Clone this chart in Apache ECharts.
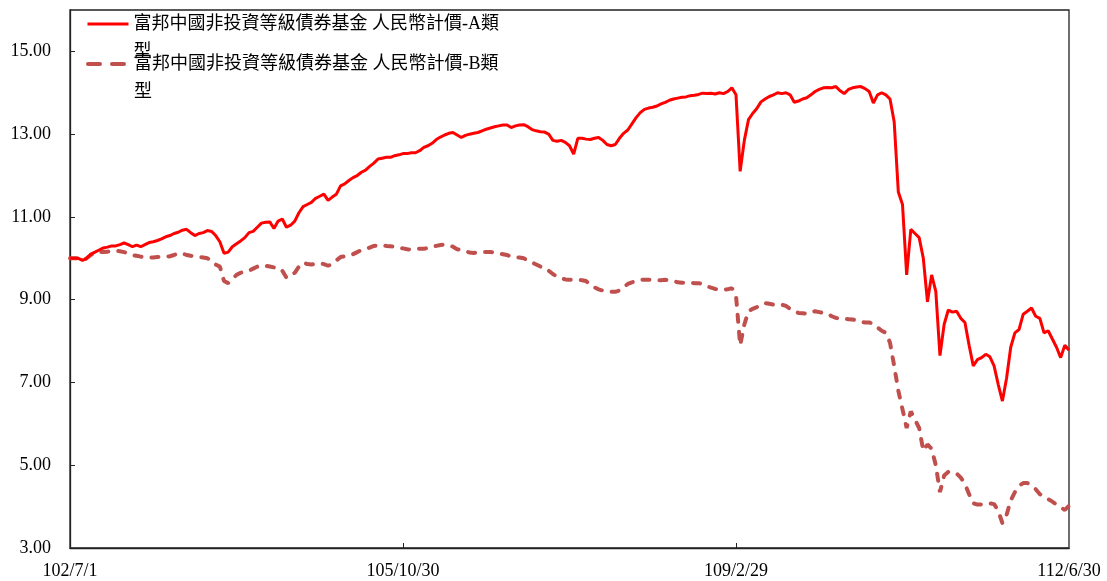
<!DOCTYPE html>
<html>
<head>
<meta charset="utf-8">
<script src="https://cdn.jsdelivr.net/npm/echarts@6/dist/echarts.min.js"></script>
<style>
html,body{margin:0;padding:0;background:#fff;}
#chart{width:1107px;height:581px;}
</style>
</head>
<body>
<div id="chart"></div>
<script>
const seriesNameA = '富邦中國非投資等級債券基金 人民幣計價-A類型';
const seriesNameB = '富邦中國非投資等級債券基金 人民幣計價-B類型';

const categories = [
"102/7/1","102/7/15","102/7/31","102/8/15","102/8/31","102/9/15","102/9/30","102/10/15","102/10/31","102/11/15","102/11/30","102/12/15","102/12/31",
"103/1/15","103/1/31","103/2/15","103/2/28","103/3/15","103/3/31","103/4/15","103/4/30","103/5/15","103/5/31","103/6/15","103/6/30","103/7/15","103/7/31","103/8/15","103/8/31","103/9/15","103/9/30","103/10/15","103/10/31","103/11/15","103/11/30","103/12/15","103/12/31",
"104/1/15","104/1/31","104/2/15","104/2/28","104/3/15","104/3/31","104/4/15","104/4/30","104/5/15","104/5/31","104/6/15","104/6/30","104/7/15","104/7/31","104/8/15","104/8/31","104/9/15","104/9/30","104/10/15","104/10/31","104/11/15","104/11/30","104/12/15","104/12/31",
"105/1/15","105/1/31","105/2/15","105/2/29","105/3/15","105/3/31","105/4/15","105/4/30","105/5/15","105/5/31","105/6/15","105/6/30","105/7/15","105/7/31","105/8/15","105/8/31","105/9/15","105/9/30","105/10/15","105/10/30","105/11/15","105/11/30","105/12/15","105/12/31",
"106/1/15","106/1/31","106/2/15","106/2/28","106/3/15","106/3/31","106/4/15","106/4/30","106/5/15","106/5/31","106/6/15","106/6/30","106/7/15","106/7/31","106/8/15","106/8/31","106/9/15","106/9/30","106/10/15","106/10/31","106/11/15","106/11/30","106/12/15","106/12/31",
"107/1/15","107/1/31","107/2/15","107/2/28","107/3/15","107/3/31","107/4/15","107/4/30","107/5/15","107/5/31","107/6/15","107/6/30","107/7/15","107/7/31","107/8/15","107/8/31","107/9/15","107/9/30","107/10/15","107/10/31","107/11/15","107/11/30","107/12/15","107/12/31",
"108/1/15","108/1/31","108/2/15","108/2/28","108/3/15","108/3/31","108/4/15","108/4/30","108/5/15","108/5/31","108/6/15","108/6/30","108/7/15","108/7/31","108/8/15","108/8/31","108/9/15","108/9/30","108/10/15","108/10/31","108/11/15","108/11/30","108/12/15","108/12/31",
"109/1/15","109/1/31","109/2/15","109/2/29","109/3/15","109/3/31","109/4/15","109/4/30","109/5/15","109/5/31","109/6/15","109/6/30","109/7/15","109/7/31","109/8/15","109/8/31","109/9/15","109/9/30","109/10/15","109/10/31","109/11/15","109/11/30","109/12/15","109/12/31",
"110/1/15","110/1/31","110/2/15","110/2/28","110/3/15","110/3/31","110/4/15","110/4/30","110/5/15","110/5/31","110/6/15","110/6/30","110/7/15","110/7/31","110/8/15","110/8/31","110/9/15","110/9/30","110/10/15","110/10/31","110/11/15","110/11/30","110/12/15","110/12/31",
"111/1/15","111/1/31","111/2/15","111/2/28","111/3/15","111/3/31","111/4/15","111/4/30","111/5/15","111/5/31","111/6/15","111/6/30","111/7/15","111/7/31","111/8/15","111/8/31","111/9/15","111/9/30","111/10/15","111/10/31","111/11/15","111/11/30","111/12/15","111/12/31",
"112/1/15","112/1/31","112/2/15","112/2/28","112/3/15","112/3/31","112/4/15","112/4/30","112/5/15","112/5/31","112/6/15","112/6/30"
];

const xLabelDates = ["102/7/1","105/10/30","109/2/29","112/6/30"];
const xTickDates = ["105/10/30","109/2/29"];
const yLabelValues = [3,5,7,9,11,13,15];
const yTickValues = [5,7,9,11,13,15];

const valuesA = [
10.0,10.0,10.0,9.95,10.0,10.1,10.15,10.2,10.25,10.27,
10.3,10.3,10.33,10.37,10.33,10.28,10.32,10.28,10.33,10.38,
10.4,10.43,10.47,10.52,10.55,10.6,10.63,10.68,10.7,10.62,
10.55,10.6,10.62,10.67,10.65,10.55,10.4,10.12,10.15,10.28,
10.35,10.42,10.5,10.62,10.65,10.75,10.85,10.87,10.88,10.72,
10.9,10.95,10.75,10.8,10.9,11.1,11.25,11.3,11.35,11.45,
11.5,11.55,11.4,11.48,11.55,11.75,11.8,11.88,11.95,12.0,
12.08,12.13,12.22,12.3,12.4,12.42,12.44,12.44,12.48,12.5,
12.53,12.53,12.55,12.55,12.6,12.68,12.72,12.78,12.87,12.93,
12.98,13.02,13.04,12.98,12.92,12.97,13.0,13.02,13.04,13.08,
13.12,13.15,13.18,13.2,13.22,13.22,13.16,13.2,13.22,13.23,
13.18,13.11,13.08,13.06,13.05,13.0,12.85,12.83,12.85,12.8,
12.72,12.52,12.9,12.9,12.88,12.87,12.9,12.92,12.85,12.75,
12.72,12.75,12.9,13.02,13.1,13.25,13.4,13.52,13.6,13.63,
13.65,13.68,13.73,13.77,13.82,13.85,13.87,13.89,13.9,13.93,
13.94,13.96,13.99,13.98,13.99,13.97,14.0,13.98,14.03,14.12,
13.95,12.1,12.85,13.35,13.5,13.62,13.78,13.85,13.91,13.95,
14.0,13.98,14.0,13.95,13.77,13.8,13.85,13.88,13.95,14.03,
14.08,14.12,14.13,14.12,14.15,14.05,13.98,14.08,14.12,14.14,
14.15,14.1,14.03,13.75,13.95,14.0,13.95,13.85,13.3,11.6,
11.3,9.6,10.7,10.6,10.5,10.0,8.95,9.6,9.2,7.65,
8.4,8.75,8.7,8.72,8.55,8.45,7.9,7.4,7.55,7.6,
7.68,7.62,7.4,6.95,6.55,7.1,7.85,8.2,8.28,8.65,
8.72,8.8,8.6,8.55,8.2,8.25,8.05,7.85,7.6,7.9,
7.78
];

const valuesB = [
10.0,10.0,10.0,9.95,10.0,10.08,10.13,10.15,10.15,10.16,
10.17,10.18,10.17,10.15,10.12,10.08,10.06,10.04,10.03,10.02,
10.02,10.03,10.04,10.04,10.05,10.08,10.12,10.12,10.08,10.06,
10.05,10.03,10.02,10.0,9.95,9.85,9.8,9.45,9.4,9.5,
9.6,9.65,9.68,9.7,9.75,9.8,9.82,9.82,9.8,9.78,
9.78,9.7,9.53,9.6,9.65,9.8,9.9,9.86,9.85,9.87,
9.88,9.86,9.82,9.86,9.95,10.03,10.05,10.07,10.1,10.15,
10.2,10.22,10.26,10.3,10.31,10.32,10.3,10.29,10.28,10.26,
10.24,10.22,10.21,10.22,10.23,10.23,10.25,10.28,10.3,10.32,
10.33,10.32,10.28,10.22,10.2,10.17,10.14,10.13,10.14,10.15,
10.15,10.15,10.14,10.12,10.1,10.08,10.04,10.02,10.02,10.0,
9.95,9.9,9.85,9.8,9.78,9.7,9.62,9.56,9.52,9.49,
9.48,9.48,9.48,9.47,9.45,9.35,9.3,9.25,9.22,9.19,
9.19,9.19,9.22,9.3,9.38,9.42,9.45,9.48,9.48,9.48,
9.48,9.47,9.47,9.48,9.47,9.45,9.42,9.41,9.41,9.41,
9.4,9.4,9.38,9.33,9.29,9.26,9.24,9.24,9.25,9.28,
9.1,7.9,8.4,8.72,8.78,8.82,8.88,8.92,8.9,8.88,
8.88,8.88,8.85,8.78,8.72,8.68,8.67,8.66,8.7,8.72,
8.7,8.68,8.66,8.6,8.56,8.54,8.54,8.53,8.52,8.5,
8.47,8.45,8.45,8.42,8.33,8.25,8.2,7.96,7.4,6.8,
6.35,5.9,6.3,6.1,5.9,5.35,5.5,5.4,5.0,4.35,
4.75,4.84,4.83,4.8,4.7,4.55,4.3,4.08,4.05,4.05,
4.07,4.08,4.06,3.9,3.6,3.8,4.15,4.35,4.5,4.57,
4.57,4.5,4.42,4.3,4.25,4.18,4.12,4.05,3.98,3.92,
4.02
];

const FONT = "'Liberation Serif', 'Noto Sans CJK TC', serif";
const chart = echarts.init(document.getElementById('chart'), null, {renderer: 'canvas'});

const legendText = {
  color: '#000',
  fontFamily: FONT,
  fontSize: 18,
  lineHeight: 28,
  width: 374,
  overflow: 'break'
};

function legendFormatter(name) { return '\n' + name; }

chart.setOption({
  animation: false,
  backgroundColor: '#fff',
  grid: {
    left: 70, right: 38, top: 10, bottom: 33,
    show: true, borderColor: '#222', borderWidth: 1.3, containLabel: false
  },
  legend: [
    {
      data: [seriesNameA], left: 86, top: -18, padding: 0,
      itemWidth: 41, itemHeight: 14, textStyle: legendText,
      formatter: legendFormatter,
      itemStyle: {opacity: 0},
      lineStyle: {width: 3}
    },
    {
      data: [seriesNameB], left: 86, top: 22, padding: 0,
      itemWidth: 41, itemHeight: 14, textStyle: legendText,
      formatter: legendFormatter,
      itemStyle: {opacity: 0},
      lineStyle: {width: 4, type: [12, 12], cap: 'round'}
    }
  ],
  xAxis: {
    type: 'category',
    data: categories,
    boundaryGap: false,
    axisLine: {lineStyle: {color: '#222', width: 1.3}},
    axisTick: {
      show: true, inside: true, length: 5,
      lineStyle: {color: '#222'},
      interval: function (idx, val) { return xTickDates.indexOf(val) >= 0; }
    },
    axisLabel: {
      color: '#000', fontFamily: FONT, fontSize: 18, margin: 14,
      interval: function (idx, val) { return xLabelDates.indexOf(val) >= 0; }
    },
    splitLine: {show: false}
  },
  yAxis: {
    type: 'value',
    min: 3, max: 16,
    axisLine: {show: true, lineStyle: {color: '#222', width: 1.3}},
    axisTick: {show: true, inside: true, length: 5, lineStyle: {color: '#222'}, customValues: yTickValues},
    axisLabel: {
      color: '#000', fontFamily: FONT, fontSize: 18, margin: 19,
      customValues: yLabelValues,
      formatter: function (v) { return Number(v).toFixed(2); }
    },
    splitLine: {show: false}
  },
  series: [
    {
      name: seriesNameA, type: 'line', data: valuesA,
      showSymbol: false, symbol: 'none',
      lineStyle: {color: '#FF0000', width: 3},
      itemStyle: {color: '#FF0000'},
      z: 3
    },
    {
      name: seriesNameB, type: 'line', data: valuesB,
      showSymbol: false, symbol: 'none',
      lineStyle: {color: '#C0504D', width: 4, type: [7, 10], cap: 'round'},
      itemStyle: {color: '#C0504D'},
      z: 2
    }
  ]
});
</script>
</body>
</html>
